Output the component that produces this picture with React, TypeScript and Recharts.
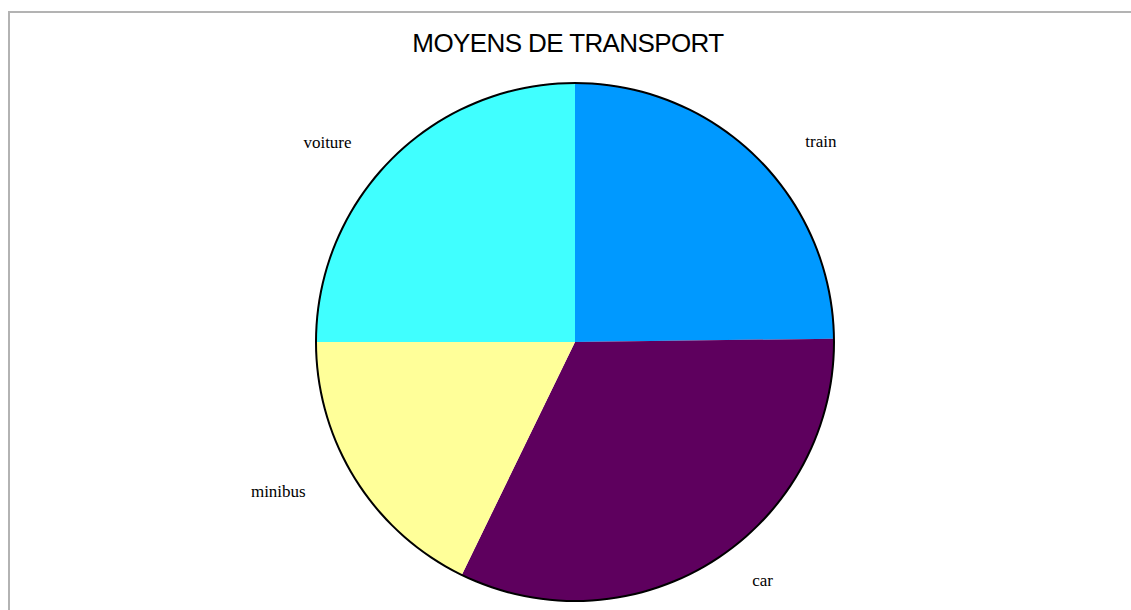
import { Pie, PieChart, Cell } from 'recharts'

const categories = ['train', 'car', 'minibus', 'voiture']
const shares = [24.8, 32.4, 17.8, 25.0]
const colors = ['#0099ff', '#5e005e', '#ffff99', '#40ffff']

const TITLE = 'MOYENS DE TRANSPORT'

const data = categories.map((name, i) => ({ name, value: shares[i] }))
const RAD = Math.PI / 180

function renderLabel(props: any) {
  const { cx, cy, midAngle, outerRadius, name } = props
  const x = cx + (outerRadius + 91) * Math.cos(-midAngle * RAD)
  const y = cy + (outerRadius + 23) * Math.sin(-midAngle * RAD)
  return (
    <text
      x={x}
      y={y}
      textAnchor="middle"
      dominantBaseline="central"
      fill="#000"
      style={{ fontFamily: '"Liberation Serif", "Times New Roman", serif', fontSize: 17 }}
    >
      {name}
    </text>
  )
}

export default function App() {
  return (
    <div style={{ position: 'absolute', left: 0, top: 0, width: 1131, height: 610, overflow: 'hidden', background: '#fff' }}>
      <div
        style={{
          position: 'absolute',
          left: 8,
          top: 11,
          width: 1300,
          height: 800,
          border: '2px solid #b3b3b3',
        }}
      />
      <div
        style={{
          position: 'absolute',
          left: 0,
          top: 28,
          width: 1136,
          textAlign: 'center',
          fontFamily: '"Liberation Sans", Arial, sans-serif',
          fontSize: 26,
          letterSpacing: -0.6,
          lineHeight: '30px',
          color: '#000',
        }}
      >
        {TITLE}
      </div>
      <div style={{ position: 'absolute', left: 0, top: 0 }}>
        <PieChart width={1131} height={610} margin={{ top: 0, right: 0, bottom: 0, left: 0 }}>
          <Pie
            data={data}
            dataKey="value"
            nameKey="name"
            cx={575}
            cy={342}
            outerRadius={259}
            startAngle={90}
            endAngle={-270}
            stroke="none"
            label={renderLabel}
            labelLine={false}
            isAnimationActive={false}
          >
            {data.map((d, i) => (
              <Cell key={d.name} fill={colors[i]} />
            ))}
          </Pie>
          <Pie
            data={[{ name: 'outline', value: 1 }]}
            dataKey="value"
            cx={575}
            cy={342}
            innerRadius={258}
            outerRadius={260}
            startAngle={90}
            endAngle={-270}
            fill="#000"
            stroke="none"
            isAnimationActive={false}
          />
        </PieChart>
      </div>
    </div>
  )
}
